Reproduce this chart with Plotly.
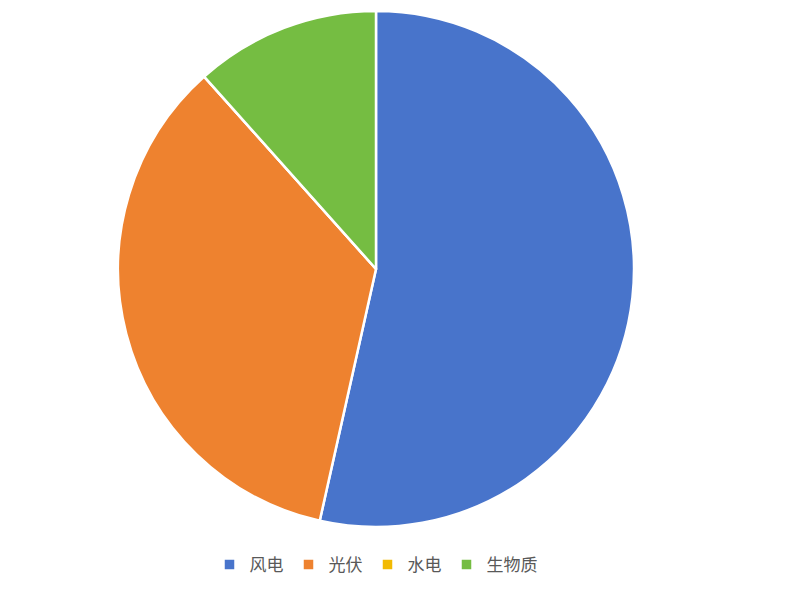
import plotly.graph_objects as go

labels = ["风电", "光伏", "水电", "生物质"]
values = [53.5, 34.9, 0.0, 11.6]
colors = ["#4874CB", "#EE822F", "#F2BA02", "#75BD42"]

W, H = 796, 594
cx, cy, r = 368, 261, 258

fig = go.Figure(go.Pie(
    labels=labels,
    values=values,
    sort=False,
    direction="clockwise",
    rotation=0,
    textinfo="none",
    hoverinfo="label+value+percent",
    marker=dict(colors=colors, line=dict(color="white", width=2.5)),
    domain=dict(x=[(cx - r) / W, (cx + r) / W], y=[(H - cy - r) / H, (H - cy + r) / H]),
))

fig.update_layout(
    width=W, height=H,
    margin=dict(l=0, r=0, t=0, b=0),
    paper_bgcolor="white",
    plot_bgcolor="white",
    font=dict(family="Noto Sans CJK SC", color="#595959", size=17),
    legend=dict(orientation="h", x=368 / W, xanchor="center", y=(H - 557) / H, yanchor="middle",
                font=dict(size=17, color="#595959"), itemwidth=30, traceorder="normal"),
)

fig.write_html("out.html")
